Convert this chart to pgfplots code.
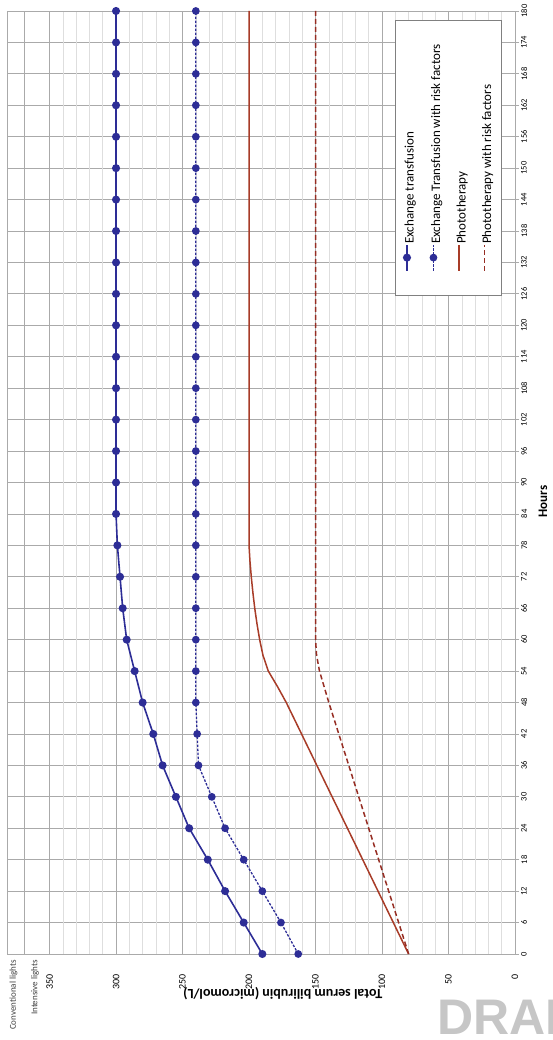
\documentclass[border=0pt]{standalone}
\usepackage{fontspec}
\setmainfont{Carlito}
\newfontfamily\draftfont{Liberation Sans}
\usepackage{graphicx}
\usepackage{pgfplots}
\pgfplotsset{compat=1.18}

\definecolor{etblue}{RGB}{45,45,150}
\definecolor{ptred}{RGB}{168,60,40}
\definecolor{ptrred}{RGB}{150,45,35}
\definecolor{gridmaj}{RGB}{170,170,170}
\definecolor{gridmin}{RGB}{222,222,222}

\begin{document}
\rotatebox{90}{%
\begin{tikzpicture}
\useasboundingbox (0,0) rectangle (1040pt,552pt);
% watermark
\node[rotate=-90, anchor=north west, inner sep=0pt, text=gray!45,
      font=\draftfont\bfseries\fontsize{50}{50}\selectfont] at (40pt,115pt) {DRAFT};
\begin{axis}[
  at={(86pt,37pt)}, anchor=south west,
  scale only axis, width=943pt, height=508pt,
  xmin=0, xmax=180, ymin=0, ymax=382,
  clip=false,
  xtick={0,6,...,180},
  ytick={0,50,...,350},
  minor ytick={10,20,30,40,60,70,80,90,110,120,130,140,160,170,180,190,
               210,220,230,240,260,270,280,290,310,320,330,340},
  grid=both,
  major grid style={gridmaj, line width=0.8pt},
  minor grid style={gridmin, line width=0.6pt},
  axis line style={gridmaj, line width=0.8pt},
  xtick pos=bottom, ytick pos=left,
  tick align=outside,
  major tick length=4pt, minor tick length=0pt,
  xtick style={gridmaj, line width=0.8pt},
  ytick style={draw=none},
  /pgf/number format/assume math mode=true,
  xticklabel style={font=\fontsize{8.5}{10}\selectfont, inner sep=0pt, yshift=-2pt},
  yticklabel style={font=\fontsize{10}{12}\selectfont, inner sep=0pt, xshift=-16pt},
  xlabel={\textbf{Hours}},
  xlabel style={font=\fontsize{13}{15}\selectfont, at={(axis description cs:0.48,-0.055)}, anchor=center},
  ylabel={\textbf{Total serum bilirubin (micromol/L)}},
  ylabel style={font=\fontsize{14}{16}\selectfont, at={(axis description cs:-0.0424,0.457)}, anchor=center},
  legend cell align=left,
  legend image code/.code={\draw[mark repeat=2,mark phase=2,#1] plot coordinates {(0pt,3.5pt) (13pt,3.5pt) (26pt,3.5pt)};},
  legend style={at={(rel axis cs:0.9905,0.0256)}, anchor=south east,
    draw=gray, line width=0.6pt, fill=white,
    font=\fontsize{13}{15}\selectfont,
    inner xsep=24pt, inner ysep=8pt, row sep=14pt,
    nodes={inner sep=0pt, text height=9pt, text depth=2.5pt},
    /tikz/column 2/.style={column sep=10pt}},
]
\addplot[etblue, line width=1.6pt, mark=*, mark size=3.2pt, mark options={solid}] coordinates {
  (0,190) (6,204) (12,218) (18,231) (24,245) (30,255) (36,265) (42,272)
  (48,280) (54,286) (60,292) (66,295) (72,297) (78,299) (84,300) (90,300)
  (96,300) (102,300) (108,300) (114,300) (120,300) (126,300) (132,300)
  (138,300) (144,300) (150,300) (156,300) (162,300) (168,300) (174,300) (180,300)};
\addlegendentry{Exchange transfusion}
\addplot[etblue, line width=1.3pt, dash pattern=on 2.5pt off 1.5pt, mark=*, mark size=3.2pt, mark options={solid}] coordinates {
  (0,163) (6,176) (12,190) (18,204) (24,218) (30,228) (36,238) (42,239)
  (48,240) (54,240) (60,240) (66,240) (72,240) (78,240) (84,240) (90,240)
  (96,240) (102,240) (108,240) (114,240) (120,240) (126,240) (132,240)
  (138,240) (144,240) (150,240) (156,240) (162,240) (168,240) (174,240) (180,240)};
\addlegendentry{Exchange Transfusion with risk factors}
\addplot[ptred, line width=1.5pt] coordinates {
  (0,80) (6,91.5) (12,103) (18,114.5) (24,126) (30,137.5) (36,149) (42,160.5)
  (48,172) (51,178.5) (54,185.5) (57,189.5) (60,192) (63,194) (66,195.7)
  (69,197.1) (72,198.3) (75,199.3) (78,200) (84,200) (180,200)};
\addlegendentry{Phototherapy}
\addplot[ptrred, line width=1.5pt, dash pattern=on 5pt off 3pt] coordinates {
  (0,80) (6,87.5) (12,95) (18,102.5) (24,110) (30,117.5) (36,125) (42,132.5)
  (48,140) (51,143.5) (54,147) (57,149.2) (60,150) (66,150) (180,150)};
\addlegendentry{Phototherapy with risk factors}
\draw[gridmaj, line width=0.8pt] (axis cs:0,369) -- (axis cs:180,369);
\node[anchor=east, inner sep=0pt, text=darkgray, font=\fontsize{9}{10}\selectfont]
  at ([xshift=-6pt]axis cs:0,377) {Conventional lights};
\node[anchor=east, inner sep=0pt, text=darkgray, font=\fontsize{9}{10}\selectfont]
  at ([xshift=-6pt]axis cs:0,361) {Intensive lights};
\end{axis}
\end{tikzpicture}}
\end{document}
